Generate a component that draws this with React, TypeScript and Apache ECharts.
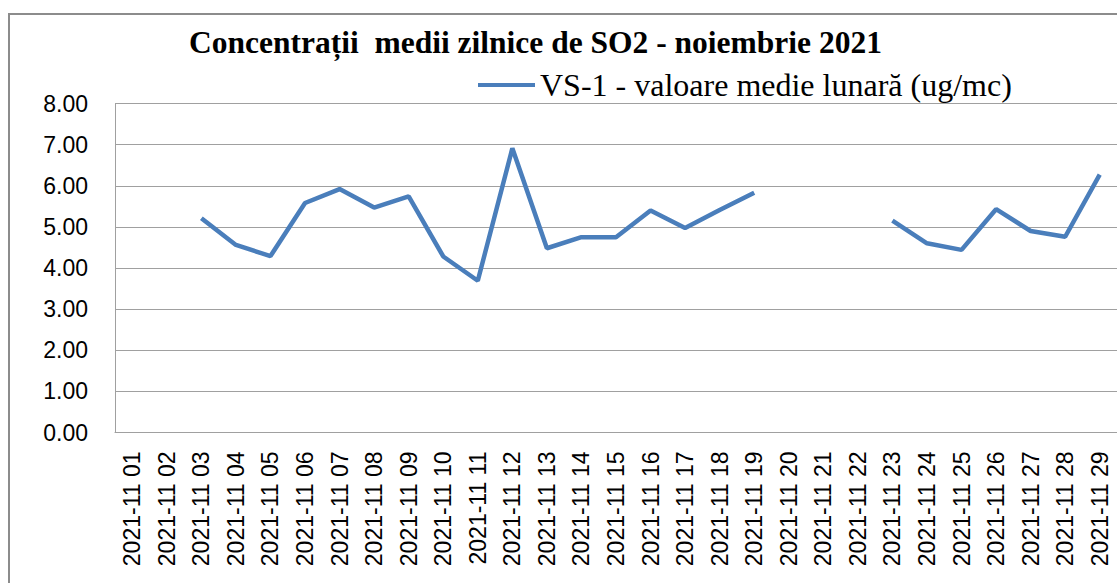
import React, { useEffect, useRef } from "react";
import * as echarts from "echarts";

const categories = [
  "2021-11 01", "2021-11 02", "2021-11 03", "2021-11 04", "2021-11 05", "2021-11 06",
  "2021-11 07", "2021-11 08", "2021-11 09", "2021-11 10", "2021-11 11", "2021-11 12",
  "2021-11 13", "2021-11 14", "2021-11 15", "2021-11 16", "2021-11 17", "2021-11 18",
  "2021-11 19", "2021-11 20", "2021-11 21", "2021-11 22", "2021-11 23", "2021-11 24",
  "2021-11 25", "2021-11 26", "2021-11 27", "2021-11 28", "2021-11 29",
];

const vs1Values: (number | null)[] = [
  null, null, 5.21, 4.56, 4.29, 5.58, 5.92, 5.47, 5.74, 4.28, 3.69, 6.91,
  4.48, 4.75, 4.75, 5.40, 4.97, 5.41, 5.83, null, null, null, 5.15, 4.60,
  4.44, 5.43, 4.90, 4.76, 6.27,
];

const titleText = "Concentrații  medii zilnice de SO2 - noiembrie 2021";
const seriesName = "VS-1 - valoare medie lunară (ug/mc)";

const serif = "Liberation Serif";
const sans = "Liberation Sans";

export default function App() {
  const ref = useRef<HTMLDivElement>(null);
  useEffect(() => {
    if (!ref.current) return;
    const chart = echarts.init(ref.current, undefined, { renderer: "svg" });
    chart.setOption({
      animation: false,
      backgroundColor: "#ffffff",
      title: {
        text: titleText,
        left: 189,
        top: 26,
        padding: 0,
        textStyle: {
          fontFamily: serif,
          fontWeight: "bold",
          fontSize: 31.5,
          color: "#000000",
        },
      },
      legend: {
        left: 478,
        top: 69,
        padding: 0,
        icon: "rect",
        itemWidth: 57,
        itemHeight: 4,
        itemGap: 4,
        textStyle: { fontFamily: serif, fontSize: 32, color: "#000000" },
        data: [seriesName],
      },
      graphic: [
        {
          type: "rect",
          shape: { x: 9, y: 14, width: 1200, height: 700 },
          style: { fill: "none", stroke: "#8c8c8c", lineWidth: 2 },
          silent: true,
        },
      ],
      grid: { left: 115, top: 103.5, bottom: 150.5, right: -6, containLabel: false },
      xAxis: {
        type: "category",
        data: categories,
        boundaryGap: true,
        axisLine: { show: true, lineStyle: { color: "#a0a0a0", width: 1 } },
        axisTick: { show: false },
        axisLabel: {
          rotate: 90,
          margin: 19,
          interval: 0,
          fontFamily: sans,
          fontSize: 23,
          color: "#000000",
        },
      },
      yAxis: {
        type: "value",
        min: 0,
        max: 8,
        interval: 1,
        axisLine: { show: true, lineStyle: { color: "#a0a0a0", width: 1 } },
        axisTick: { show: false },
        splitLine: { show: true, lineStyle: { color: "#a0a0a0", width: 1 } },
        axisLabel: {
          margin: 27,
          fontFamily: sans,
          fontSize: 23,
          color: "#000000",
          formatter: (v: number) => v.toFixed(2),
        },
      },
      series: [
        {
          name: seriesName,
          type: "line",
          data: vs1Values,
          showSymbol: false,
          symbol: "none",
          connectNulls: false,
          lineStyle: { color: "#4a7ebb", width: 4.5 },
          itemStyle: { color: "#4a7ebb" },
        },
      ],
    });
    return () => chart.dispose();
  }, []);
  return (
    <div
      ref={ref}
      style={{ position: "fixed", left: 0, top: 0, width: 1117, height: 583 }}
    />
  );
}
